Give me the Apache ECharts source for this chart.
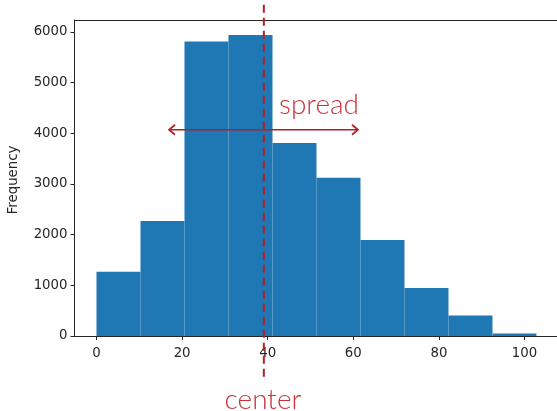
<!DOCTYPE html>
<html>
<head>
<meta charset="utf-8">
<script src="https://cdn.jsdelivr.net/npm/echarts@6/dist/echarts.min.js"></script>
<style>html,body{margin:0;padding:0;background:#fff;}#c{width:557px;height:411px;}</style>
</head>
<body>
<div id="c"></div>
<script>
// Histogram data
const binEdges = [0, 10.28, 20.56, 30.84, 41.12, 51.4, 61.68, 71.96, 82.24, 92.52, 102.8];
const counts = [1268, 2268, 5811, 5937, 3807, 3122, 1893, 947, 406, 51];
const xTicks = [0, 20, 40, 60, 80, 100];
const yTicks = [0, 1000, 2000, 3000, 4000, 5000, 6000];
// Annotations
const centerX = 39.1;
const centerLineRange = [6535, -895];
const spreadRange = [16.95, 61.1];
const spreadY = 4069;

const histData = counts.map((c, i) => [binEdges[i], binEdges[i + 1], c]);

const chart = echarts.init(document.getElementById('c'), null, {renderer: 'canvas'});
const red = '#b41f26';
const txtRed = '#c8323a';
const axisColor = '#262626';
const tickFont = {fontFamily: 'DejaVu Sans', fontSize: 13.3, color: '#262626'};
const xMin = -5.14, xMax = 107.6;

chart.setOption({
  animation: false,
  grid: {left: 74.5, right: 0, top: 20, bottom: 75, show: false},
  xAxis: [{
    type: 'value', min: xMin, max: xMax,
    axisLine: {show: true, onZero: false, lineStyle: {color: axisColor, width: 1}},
    axisTick: {show: true, inside: false, length: 4, customValues: xTicks, lineStyle: {color: axisColor}},
    axisLabel: Object.assign({margin: 11, customValues: xTicks}, tickFont),
    splitLine: {show: false}
  }, {
    type: 'value', min: xMin, max: xMax, position: 'top',
    axisLine: {show: true, onZero: false, lineStyle: {color: axisColor, width: 1}},
    axisTick: {show: false}, axisLabel: {show: false}, splitLine: {show: false}
  }],
  yAxis: {
    type: 'value', min: 0, max: 6234,
    axisLine: {show: true, onZero: false, lineStyle: {color: axisColor, width: 1}},
    axisTick: {show: true, inside: false, length: 4, customValues: yTicks, lineStyle: {color: axisColor}},
    axisLabel: Object.assign({margin: 7, customValues: yTicks, formatter: v => String(v)}, tickFont),
    splitLine: {show: false}
  },
  graphic: [
    {type: 'text', x: 14, y: 180, rotation: Math.PI / 2,
      style: {text: 'Frequency', fontFamily: 'DejaVu Sans', fontSize: 13.3, fill: '#262626', align: 'center', verticalAlign: 'middle'}},
    {type: 'text', x: 279, y: 105,
      style: {text: 'spread', fontFamily: 'Lato', fontWeight: 300, fontSize: 28, fill: txtRed, align: 'left', verticalAlign: 'middle'}, z: 100},
    {type: 'text', x: 263, y: 400,
      style: {text: 'center', fontFamily: 'Lato', fontWeight: 300, fontSize: 28, fill: txtRed, align: 'center', verticalAlign: 'middle'}, z: 100}
  ],
  series: [
    {
      type: 'custom',
      data: histData,
      renderItem: function (params, api) {
        const p0 = api.coord([api.value(0), api.value(2)]);
        const p1 = api.coord([api.value(1), 0]);
        return {type: 'rect', shape: {x: p0[0], y: p0[1], width: p1[0] - p0[0], height: p1[1] - p0[1]},
          style: {fill: '#1f77b4'}};
      },
      z: 2
    },
    {
      type: 'custom',
      clip: false,
      data: [[centerX, spreadRange[0], spreadRange[1], spreadY]],
      renderItem: function (params, api) {
        const a = api.coord([api.value(0), centerLineRange[0]]);
        const b = api.coord([api.value(0), centerLineRange[1]]);
        const l = api.coord([api.value(1), api.value(3)]);
        const r = api.coord([api.value(2), api.value(3)]);
        const h = 6, w = 5;
        return {type: 'group', children: [
          {type: 'line', shape: {x1: a[0], y1: a[1], x2: b[0], y2: b[1]},
            style: {stroke: red, lineWidth: 2, lineDash: [8, 5]}},
          {type: 'line', shape: {x1: l[0] + 1, y1: l[1], x2: r[0] - 1, y2: r[1]},
            style: {stroke: red, lineWidth: 1.7}},
          {type: 'polyline', shape: {points: [[l[0] + h, l[1] - w], [l[0], l[1]], [l[0] + h, l[1] + w]]},
            style: {stroke: red, lineWidth: 1.7, fill: null}},
          {type: 'polyline', shape: {points: [[r[0] - h, r[1] - w], [r[0], r[1]], [r[0] - h, r[1] + w]]},
            style: {stroke: red, lineWidth: 1.7, fill: null}}
        ]};
      },
      z: 10
    }
  ]
});
</script>
</body>
</html>
